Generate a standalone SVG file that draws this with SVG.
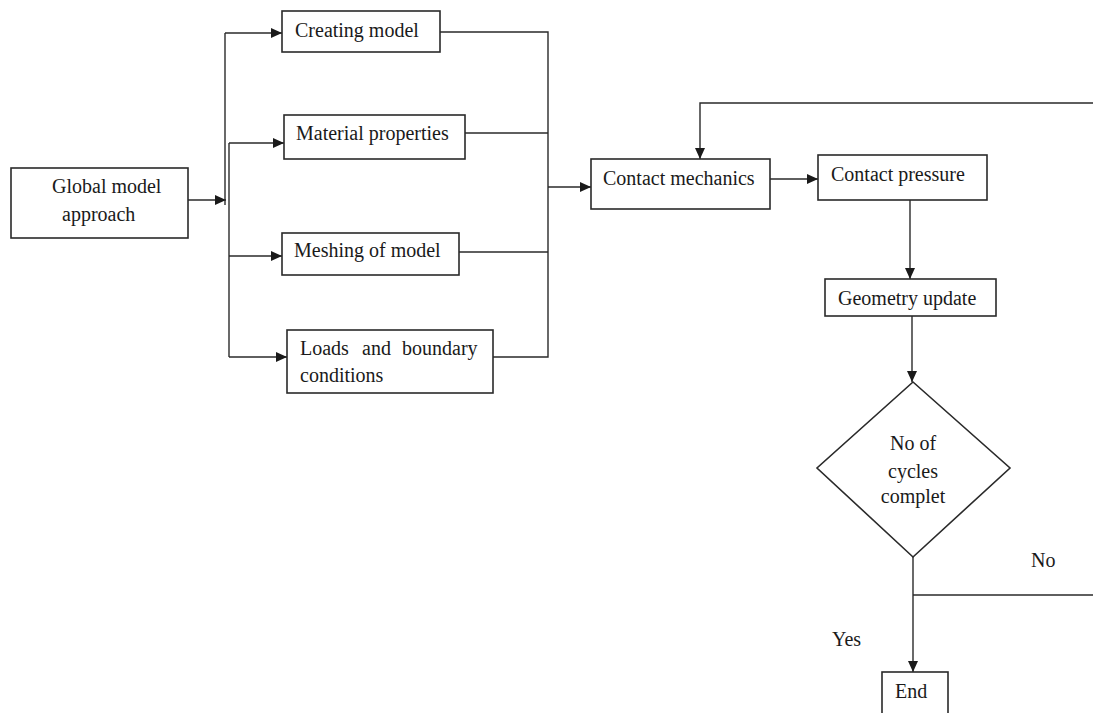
<svg xmlns="http://www.w3.org/2000/svg" width="1093" height="713" viewBox="0 0 1093 713">
<style>
.box{fill:#fff;stroke:#2a2a2a;stroke-width:1.6}
.ln{fill:none;stroke:#2a2a2a;stroke-width:1.4}
.t{font-family:"Liberation Serif","Times New Roman",serif;font-size:20px;fill:#1a1a1a}
.c{text-anchor:middle}
</style>
<defs>
<marker id="ah" markerUnits="userSpaceOnUse" markerWidth="12" markerHeight="10" refX="11" refY="5" orient="auto">
<path d="M0,0 L11,5 L0,10 Z" fill="#1a1a1a"/>
</marker>
</defs>
<g id="connectors">
<path class="ln" d="M188,200 H226" marker-end="url(#ah)"/>
<path class="ln" d="M225,33 V205"/>
<path class="ln" d="M229,143 V357"/>
<path class="ln" d="M225,33 H282" marker-end="url(#ah)"/>
<path class="ln" d="M229,143 H284" marker-end="url(#ah)"/>
<path class="ln" d="M229,256 H282" marker-end="url(#ah)"/>
<path class="ln" d="M229,357 H287" marker-end="url(#ah)"/>
<path class="ln" d="M440,32 H548 V357 H493"/>
<path class="ln" d="M465,133 H548"/>
<path class="ln" d="M459,252 H548"/>
<path class="ln" d="M548,187 H591" marker-end="url(#ah)"/>
<path class="ln" d="M770,179 H818" marker-end="url(#ah)"/>
<path class="ln" d="M910,200 V279" marker-end="url(#ah)"/>
<path class="ln" d="M912,316 V382" marker-end="url(#ah)"/>
<path class="ln" d="M913,557 V672" marker-end="url(#ah)"/>
<path class="ln" d="M913,595 H1093"/>
<path class="ln" d="M1093,103 H700 V159" marker-end="url(#ah)"/>
<text class="t" x="1031" y="567">No</text>
<text class="t" x="832" y="646">Yes</text>
</g>
<g id="global">
<rect class="box" x="11" y="168" width="177" height="70"/>
<text class="t" x="52" y="193">Global model</text>
<text class="t" x="62" y="221">approach</text>
</g>
<g id="creating">
<rect class="box" x="282" y="11" width="158" height="41"/>
<text class="t" x="295" y="37">Creating model</text>
</g>
<g id="material">
<rect class="box" x="284" y="115" width="181" height="44"/>
<text class="t" x="296" y="140">Material properties</text>
</g>
<g id="meshing">
<rect class="box" x="282" y="233" width="177" height="42"/>
<text class="t" x="294" y="257">Meshing of model</text>
</g>
<g id="loads">
<rect class="box" x="287" y="330" width="206" height="63"/>
<text class="t" y="355"><tspan x="300">Loads</tspan><tspan x="362">and</tspan><tspan x="402">boundary</tspan></text>
<text class="t" x="300" y="382">conditions</text>
</g>
<g id="contact-mechanics">
<rect class="box" x="591" y="159" width="179" height="50"/>
<text class="t" x="603" y="185">Contact mechanics</text>
</g>
<g id="contact-pressure">
<rect class="box" x="818" y="155" width="169" height="45"/>
<text class="t" x="831" y="181">Contact pressure</text>
</g>
<g id="geometry">
<rect class="box" x="825" y="279" width="171" height="37"/>
<text class="t" x="838" y="305">Geometry update</text>
</g>
<g id="decision">
<path class="box" d="M913,382 L1010,468 L913,557 L817,468 Z"/>
<text class="t c" x="913" y="450">No of</text>
<text class="t c" x="913" y="478">cycles</text>
<text class="t c" x="913" y="503">complet</text>
</g>
<g id="end">
<rect class="box" x="882" y="672" width="66" height="50"/>
<text class="t" x="895" y="698">End</text>
</g>
</svg>
